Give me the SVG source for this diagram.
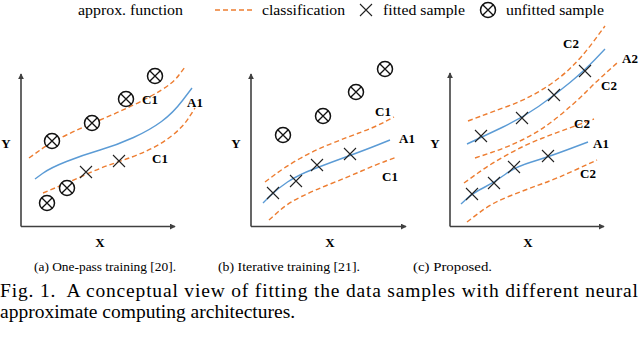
<svg xmlns="http://www.w3.org/2000/svg" width="640" height="352" viewBox="0 0 640 352">
<style>
text{font-family:"Liberation Serif","Times New Roman",serif;fill:#000}
.lg{font-size:15px}
.lab{font-size:13px;font-weight:bold}
.sub{font-size:13.4px}
.cap{font-size:19.5px}
.ax{stroke:#404040;stroke-width:1.6;fill:none}
.fit{stroke:#5B9BD5;stroke-width:1.4;fill:none}
.cls{stroke:#ED7D31;stroke-width:1.4;fill:none;stroke-dasharray:5 3}
.mk{stroke:#222;stroke-width:1.1;fill:none}
.uc{stroke:#111;stroke-width:1.5;fill:#fff}
</style>
<defs>
<marker id="arr" viewBox="0 0 8 8" refX="7" refY="4" markerWidth="6" markerHeight="6" orient="auto" markerUnits="userSpaceOnUse">
<path d="M0,0 L8,4 L0,8 Z" fill="#404040"/>
</marker>
<g id="xm"><path class="mk" d="M-6,-6 L6,6 M-6,6 L6,-6"/></g>
<g id="cx"><circle class="uc" r="7.5"/><path class="mk" d="M-5.3,-5.3 L5.3,5.3 M-5.3,5.3 L5.3,-5.3" style="stroke:#111;stroke-width:1.3"/></g>
</defs>

<g id="legend">
<text class="lg" x="78" y="15" textLength="105" lengthAdjust="spacingAndGlyphs">approx. function</text>
<line class="cls" x1="215" y1="10" x2="252" y2="10"/>
<text class="lg" x="262" y="15" textLength="83" lengthAdjust="spacingAndGlyphs">classification</text>
<use href="#xm" x="366" y="10"/>
<text class="lg" x="383" y="15" textLength="82" lengthAdjust="spacingAndGlyphs">fitted sample</text>
<use href="#cx" x="488" y="10"/>
<text class="lg" x="506" y="15" textLength="98" lengthAdjust="spacingAndGlyphs">unfitted sample</text>
</g>

<g id="panel-a">
<path class="ax" d="M21,226.5 L21,74" marker-end="url(#arr)"/>
<path class="ax" d="M21,226.5 L175,226.5" marker-end="url(#arr)"/>
<text class="lab" x="6" y="148" text-anchor="middle">Y</text>
<text class="lab" x="100" y="247" text-anchor="middle">X</text>
<path class="cls" d="M29,158 L39.5,150.5 Q50,143 66.5,135 Q83,127 100,120 Q117,113 133.5,105 Q150,97 161.5,90 Q173,83 179,75 L185,67"/>
<path class="fit" d="M35,179 L42.5,173.5 Q50,168 66.5,161.5 Q83,155 100,150 Q117,145 133.5,137.5 Q150,130 161.5,121.5 Q173,113 182.5,100.5 L192,88"/>
<path class="cls" d="M43,193 L55,188 Q67,183 83.5,175.5 Q100,168 116.5,162.5 Q133,157 146.5,151 Q160,145 171.5,136 Q183,127 189,117.5 L195,108"/>
<use href="#cx" x="52" y="141"/>
<use href="#cx" x="92" y="123"/>
<use href="#cx" x="126" y="99"/>
<use href="#cx" x="155" y="76"/>
<use href="#cx" x="67" y="188"/>
<use href="#cx" x="47" y="203"/>
<use href="#xm" x="86" y="172"/>
<use href="#xm" x="119" y="161"/>
<text class="lab" x="142" y="104">C1</text>
<text class="lab" x="187" y="107">A1</text>
<text class="lab" x="152" y="163">C1</text>
<text class="sub" x="34" y="271" textLength="142" lengthAdjust="spacingAndGlyphs">(a) One-pass training [20].</text>
</g>

<g id="panel-b">
<path class="ax" d="M251,226.5 L251,74" marker-end="url(#arr)"/>
<path class="ax" d="M251,226.5 L406,226.5" marker-end="url(#arr)"/>
<text class="lab" x="236" y="148" text-anchor="middle">Y</text>
<text class="lab" x="330" y="247" text-anchor="middle">X</text>
<path class="cls" d="M265,182 L275,174.5 Q285,167 300,158.5 Q315,150 331.5,143.5 Q348,137 361.5,132 Q375,127 384.5,122 L394,117"/>
<path class="fit" d="M263,203 L270,196 Q277,189 287.5,182 Q298,175 315,168.5 Q332,162 348.5,156 Q365,150 377.5,145 L390,140"/>
<path class="cls" d="M269,220 L278.5,211.5 Q288,203 301.5,196.5 Q315,190 331.5,183.5 Q348,177 361.5,171 Q375,165 386,161 L397,157"/>
<use href="#cx" x="283" y="135"/>
<use href="#cx" x="323" y="116"/>
<use href="#cx" x="356" y="92"/>
<use href="#cx" x="385" y="69"/>
<use href="#xm" x="273" y="193"/>
<use href="#xm" x="296" y="181"/>
<use href="#xm" x="317" y="165"/>
<use href="#xm" x="350" y="154"/>
<text class="lab" x="375" y="116">C1</text>
<text class="lab" x="399" y="143">A1</text>
<text class="lab" x="382" y="181">C1</text>
<text class="sub" x="218" y="271" textLength="142" lengthAdjust="spacingAndGlyphs">(b) Iterative training [21].</text>
</g>

<g id="panel-c">
<path class="ax" d="M450,226.5 L450,73" marker-end="url(#arr)"/>
<path class="ax" d="M450,226.5 L604,226.5" marker-end="url(#arr)"/>
<text class="lab" x="435" y="148" text-anchor="middle">Y</text>
<text class="lab" x="528" y="247" text-anchor="middle">X</text>
<path class="cls" d="M468,121 L480,116.5 Q492,112 508.5,106 Q525,100 541.5,90 Q558,80 570,68.5 Q582,57 593.5,41.5 L605,26"/>
<path class="fit" d="M467,144 L474.5,140.5 Q482,137 502,127.5 Q522,118 538.5,106.5 Q555,95 570,82.5 Q585,70 595,59.5 L605,49"/>
<path class="cls" d="M475,158 L491.5,152.5 Q508,147 525,138.5 Q542,130 558.5,116.5 Q575,103 586.5,91.5 Q598,80 607.5,71.5 L617,63"/>
<path class="cls" d="M464,183 L478,173 Q492,163 508.5,154 Q525,145 541.5,138.5 Q558,132 575,126 L594,119"/>
<path class="fit" d="M461,204 L467,198.5 Q473,193 484,187.5 Q495,182 505,174.5 Q515,167 531.5,162 Q548,157 568,149.5 L588,142"/>
<path class="cls" d="M467,222 L479.5,212.5 Q492,203 508.5,196.5 Q525,190 541.5,184 Q558,178 577.5,169 L597,160"/>
<use href="#xm" x="481" y="136"/>
<use href="#xm" x="522" y="118"/>
<use href="#xm" x="554" y="95"/>
<use href="#xm" x="585" y="71"/>
<use href="#xm" x="472" y="194"/>
<use href="#xm" x="494" y="183"/>
<use href="#xm" x="514" y="167"/>
<use href="#xm" x="548" y="156"/>
<text class="lab" x="563" y="48">C2</text>
<text class="lab" x="622" y="63">A2</text>
<text class="lab" x="601" y="90">C2</text>
<text class="lab" x="574" y="128">C2</text>
<text class="lab" x="593" y="148">A1</text>
<text class="lab" x="580" y="178">C2</text>
<text class="sub" x="413" y="271" textLength="79" lengthAdjust="spacingAndGlyphs">(c) Proposed.</text>
</g>

<g id="caption">
<text class="cap" x="0" y="297" textLength="638" lengthAdjust="spacing">Fig. 1.&#160; A conceptual view of fitting the data samples with different neural</text>
<text class="cap" x="0" y="318">approximate computing architectures.</text>
</g>
</svg>
